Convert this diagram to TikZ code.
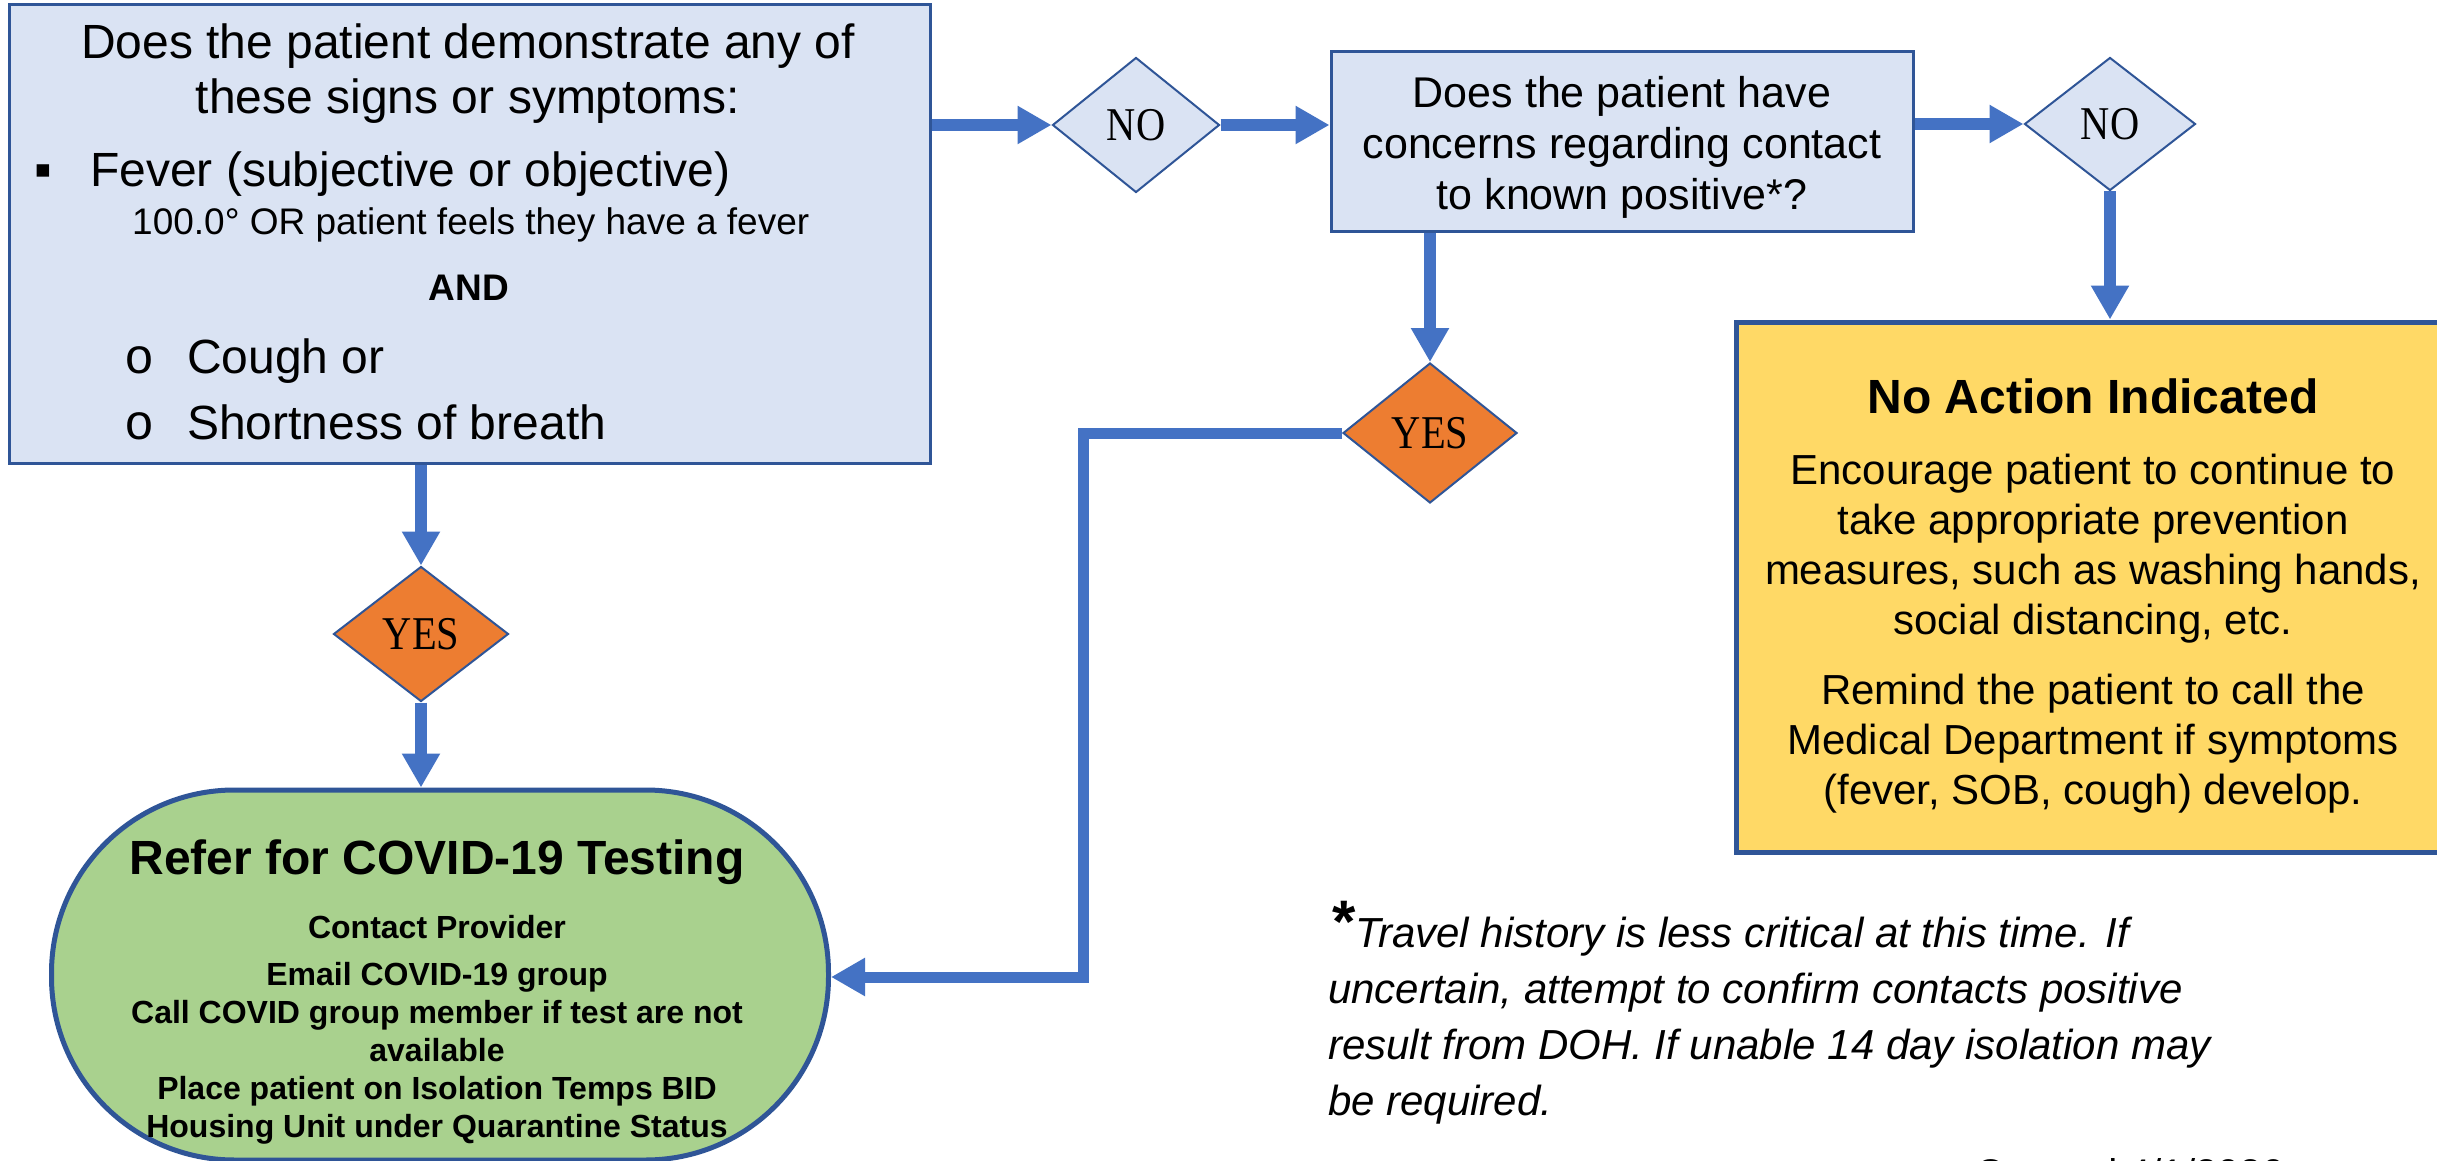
\documentclass[tikz,border=0pt]{standalone}
\usepackage{fontspec}
\usepackage{graphicx}
\setmainfont{Liberation Sans}
\newfontfamily\dserif{Liberation Serif}
\newfontfamily\dmono{Liberation Mono}
\usetikzlibrary{shapes.geometric,arrows.meta,calc}
\definecolor{boxblue}{HTML}{DAE3F3}
\definecolor{edgeblue}{HTML}{2F5597}
\definecolor{arrowblue}{HTML}{4472C4}
\definecolor{orangefill}{HTML}{ED7D31}
\definecolor{greenfill}{HTML}{A9D18E}
\definecolor{yellowfill}{HTML}{FFD966}
\newcommand{\fsz}[2]{\fontsize{#1}{#2}\selectfont}
\tikzset{
  txt/.style={inner sep=0pt, text=black},
  qbox/.style={draw=edgeblue, line width=3pt, fill=boxblue, inner sep=0pt},
  dia/.style={shape=diamond, draw=edgeblue, line width=2pt, inner sep=0pt, text=black, font=\dserif\fsz{47}{47}},
  ndia/.style={dia, fill=boxblue},
  ydia/.style={dia, fill=orangefill},
  arr/.style={line width=12pt, draw=arrowblue, -{Triangle[length=34pt,width=36pt]}},
}
\begin{document}
\begin{tikzpicture}[x=1pt,y=-1pt]
\useasboundingbox (0,0) rectangle (2437,1161);
\clip (0,0) rectangle (2437,1161);
\fill[white] (0,0) rectangle (2437,1161);

% ---------- first question box ----------
\node[qbox, minimum width=921pt, minimum height=458pt] (q1) at (469.5,234) {};
\node[txt, anchor=mid, font=\fsz{48}{56}] (q1a) at (468,56) {Does the patient demonstrate any of};
\node[txt, anchor=mid, font=\fsz{48}{56}] (q1b) at (468,111) {these signs or symptoms:};
\node[txt, anchor=mid, font=\fsz{50}{56}] (q1bul) at (43,184) {▪};
\node[txt, anchor=mid west, font=\fsz{48}{56}] (q1c) at (90,184) {Fever (subjective or objective)};
\node[txt, anchor=mid west, font=\fsz{37}{44}] (q1d) at (132,232) {100.0° OR patient feels they have a fever};
\node[txt, anchor=mid, font=\fsz{37}{44}\bfseries] (q1e) at (469,298) {AND};
\node[txt, anchor=mid, font=\dmono\fsz{50}{50}] (q1o1) at (140,371) {o};
\node[txt, anchor=mid west, font=\fsz{48}{56}] (q1f) at (187,371) {Cough or};
\node[txt, anchor=mid, font=\dmono\fsz{50}{50}] (q1o2) at (140,437) {o};
\node[txt, anchor=mid west, font=\fsz{48}{56}] (q1g) at (187,437) {Shortness of breath};

% ---------- second question box ----------
\node[qbox, minimum width=582pt, minimum height=180pt] (q2) at (1622,142) {};
\node[txt, align=center, font=\fsz{43}{51}] (q2t) at (1622,147)
  {Does the patient have\\concerns regarding contact\\to known positive*?};

% ---------- decisions ----------
\node[ndia, minimum width=167pt, minimum height=135pt] (n1) at (1136,125) {\scalebox{0.86}[1]{NO}};
\node[ndia, minimum width=171pt, minimum height=133pt] (n2) at (2110,124) {\scalebox{0.86}[1]{NO}};
\node[ydia, minimum width=175pt, minimum height=135pt] (y1) at (421,634) {\scalebox{0.86}[1]{YES}};
\node[ydia, minimum width=174pt, minimum height=140pt] (y2) at (1430,433) {\scalebox{0.86}[1]{YES}};

% ---------- refer (green) ----------
\node[draw=edgeblue, line width=5pt, fill=greenfill, rounded corners=183pt,
      minimum width=777pt, minimum height=370pt, inner sep=0pt] (ref) at (440,975) {};
\node[txt, anchor=mid, font=\fsz{48}{56}\bfseries] (refT) at (437,872) {Refer for COVID-19 Testing};
\node[txt, align=center, font=\fsz{32}{38}\bfseries] (refB) at (437,1030)
  {Contact Provider\\[9pt]Email COVID-19 group\\Call COVID group member if test are not\\available\\Place patient on Isolation Temps BID\\Housing Unit under Quarantine Status};

% ---------- no action (yellow) ----------
\node[draw=edgeblue, line width=5pt, fill=yellowfill, minimum width=714pt, minimum height=530pt, inner sep=0pt] (na) at (2093,587) {};
\node[txt, anchor=mid, font=\fsz{48}{56}\bfseries] (naT) at (2093,411) {No Action Indicated};
\node[txt, align=center, font=\fsz{42}{50}] (naP1) at (2093,549)
  {Encourage patient to continue to\\take appropriate prevention\\measures, such as washing hands,\\social distancing, etc.};
\node[txt, align=center, font=\fsz{42}{50}] (naP2) at (2093,744)
  {Remind the patient to call the\\Medical Department if symptoms\\(fever, SOB, cough) develop.};

% ---------- footnote ----------
\node[txt, anchor=mid west, font=\fsz{42}{54}\itshape] (f1) at (1332,945)
  {{\upshape\bfseries\fsz{60}{54}\raisebox{5pt}{*}}Travel history is less critical at this time. If};
\node[txt, anchor=mid west, font=\fsz{42}{54}\itshape] (f2) at (1328,1001)
  {uncertain, attempt to confirm contacts positive};
\node[txt, anchor=mid west, font=\fsz{42}{54}\itshape] (f3) at (1328,1057)
  {result from DOH. If unable 14 day isolation may};
\node[txt, anchor=mid west, font=\fsz{42}{54}\itshape] (f4) at (1328,1113)
  {be required.};
\node[txt, anchor=base west, font=\fsz{40}{48}] (cr) at (1975,1187) {Created 4/1/2020};

% ---------- connectors ----------
\draw[arr] (q1.east |- n1.west) -- (n1.west);
\draw[arr] (n1.east) -- (n1.east -| q2.west);
\draw[arr] (q2.east |- n2.west) -- (n2.west);
\draw[arr] (n2.south) -- (n2.south |- na.north);
\draw[arr] (y2.north |- q2.south) -- (y2.north);
\draw[arr] (y1.north |- q1.south) -- (y1.north);
\draw[arr] (y1.south) -- (y1.south |- ref.north);
\coordinate (bend) at (1083,977);
\draw[arr, line width=11pt] (y2.west) -| (bend) -- (bend -| ref.east);
\end{tikzpicture}
\end{document}
